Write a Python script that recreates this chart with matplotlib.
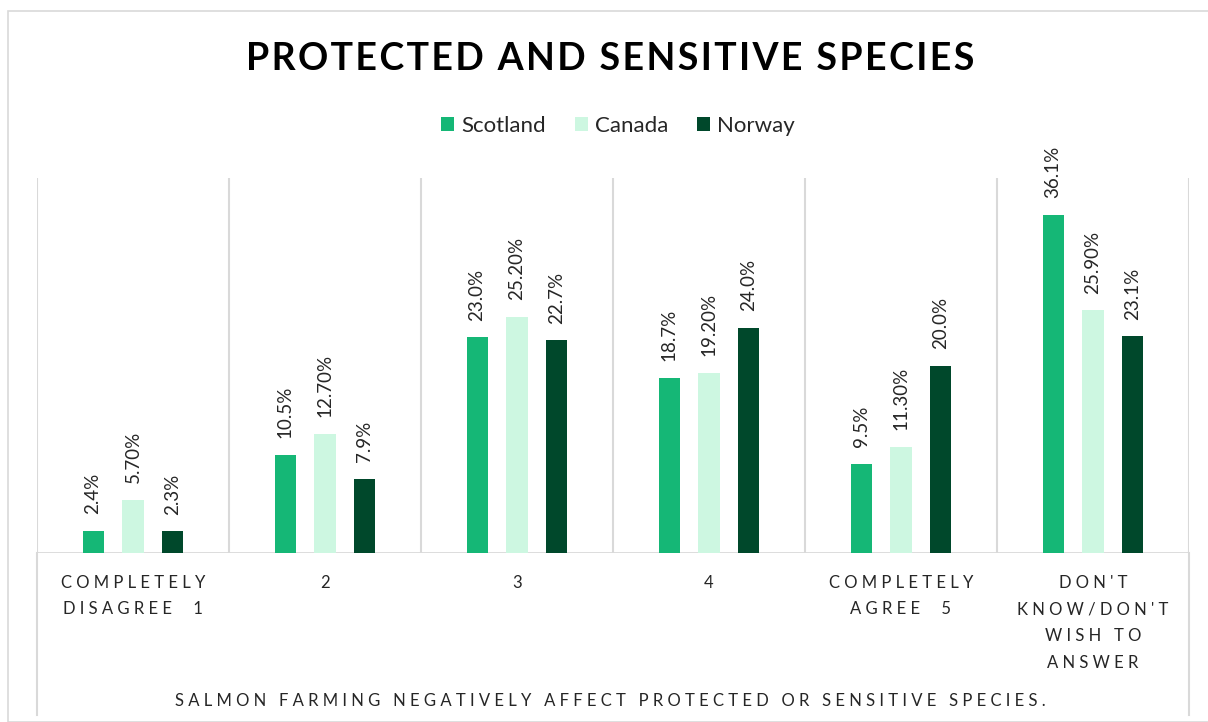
import matplotlib
matplotlib.use("Agg")
import matplotlib.pyplot as plt
import matplotlib.transforms as mtransforms
from matplotlib.patches import Rectangle
import numpy as np

plt.rcParams['font.family'] = ['Lato', 'DejaVu Sans']

categories = ["COMPLETELY\nDISAGREE  1", "2", "3", "4",
              "COMPLETELY\nAGREE  5", "DON'T\nKNOW/DON'T\nWISH TO\nANSWER"]
series_names = ["Scotland", "Canada", "Norway"]
scotland = [2.4, 10.5, 23.0, 18.7, 9.5, 36.1]
canada = [5.70, 12.70, 25.20, 19.20, 11.30, 25.90]
norway = [2.3, 7.9, 22.7, 24.0, 20.0, 23.1]
scotland_labels = ["2.4%", "10.5%", "23.0%", "18.7%", "9.5%", "36.1%"]
canada_labels = ["5.70%", "12.70%", "25.20%", "19.20%", "11.30%", "25.90%"]
norway_labels = ["2.3%", "7.9%", "22.7%", "24.0%", "20.0%", "23.1%"]
title = "PROTECTED AND SENSITIVE SPECIES"
axis_title = "SALMON FARMING NEGATIVELY AFFECT PROTECTED OR SENSITIVE SPECIES."

colors = ["#15B776", "#CDF7E1", "#00482B"]
grid_color = "#D9D9D9"
text_color = "#262626"


def spaced(s, sep="\u200a"):
    # widen letter spacing by inserting narrow spaces between characters
    lines = s.split("\n")
    return "\n".join(sep.join(list(line)) for line in lines)


W, H = 1208, 722
fig = plt.figure(figsize=(W / 100, H / 100), dpi=100)

# chart frame
fig.patches.append(Rectangle((8 / W, 0), 1.2, (H - 11) / H, transform=fig.transFigure,
                             fill=False, edgecolor=grid_color, linewidth=1.2))

left, right = 37 / W, 1189 / W
bottom, top = (H - 553) / H, (H - 178) / H
ax = fig.add_axes([left, bottom, right - left, top - bottom])

x = np.arange(len(categories))
width = 0.11
offset = 0.208
values = [scotland, canada, norway]
labels = [scotland_labels, canada_labels, norway_labels]

for i, (vals, labs) in enumerate(zip(values, labels)):
    bars = ax.bar(x + (i - 1) * offset, vals, width, color=colors[i],
                  label=series_names[i], zorder=3)
    for rect, lab in zip(bars, labs):
        ax.annotate(lab, (rect.get_x() + rect.get_width() / 2, rect.get_height()),
                    xytext=(0, 12), textcoords="offset points", rotation=90,
                    ha="center", va="bottom", fontsize=13.5, color=text_color)

ax.set_xlim(-0.5, len(categories) - 0.5)
ax.set_ylim(0, 40)
ax.set_yticks([])
ax.set_xticks([])
for s in ax.spines.values():
    s.set_visible(False)

# category separators
for b in np.arange(-0.5, len(categories), 1.0):
    ax.axvline(b, color=grid_color, linewidth=1.5, zorder=1)
# baseline
ax.axhline(0, color=grid_color, linewidth=2, zorder=2)
# outer edges extend down past the category labels
trans = mtransforms.blended_transform_factory(ax.transData, ax.transAxes)
for b in (-0.5, len(categories) - 0.5):
    ax.plot([b, b], [0, -0.432], transform=trans, color=grid_color,
            linewidth=1.5, clip_on=False)

# category labels
wide = "\u2009\u2009"
for xi, cat in zip(x, categories):
    ax.text(xi, -0.058, spaced(cat, wide), transform=trans, ha="center", va="top",
            fontsize=12, color=text_color, linespacing=1.82)

fig.text(0.5055, (H - 701) / H, spaced(axis_title, wide), ha="center", va="center",
         fontsize=12, color=text_color)

fig.text(0.5055, (H - 59) / H, spaced(title, "\u200a"), ha="center", va="center",
         fontsize=27, fontweight="bold", color="black")

leg = fig.legend(loc="center", bbox_to_anchor=(0.5115, (H - 126) / H), ncol=3,
                 frameon=False, fontsize=16, handlelength=0.6, handleheight=0.6,
                 handletextpad=0.3, columnspacing=1.3)
for t in leg.get_texts():
    t.set_color(text_color)

fig.savefig("out.png", dpi=100, facecolor="white")
